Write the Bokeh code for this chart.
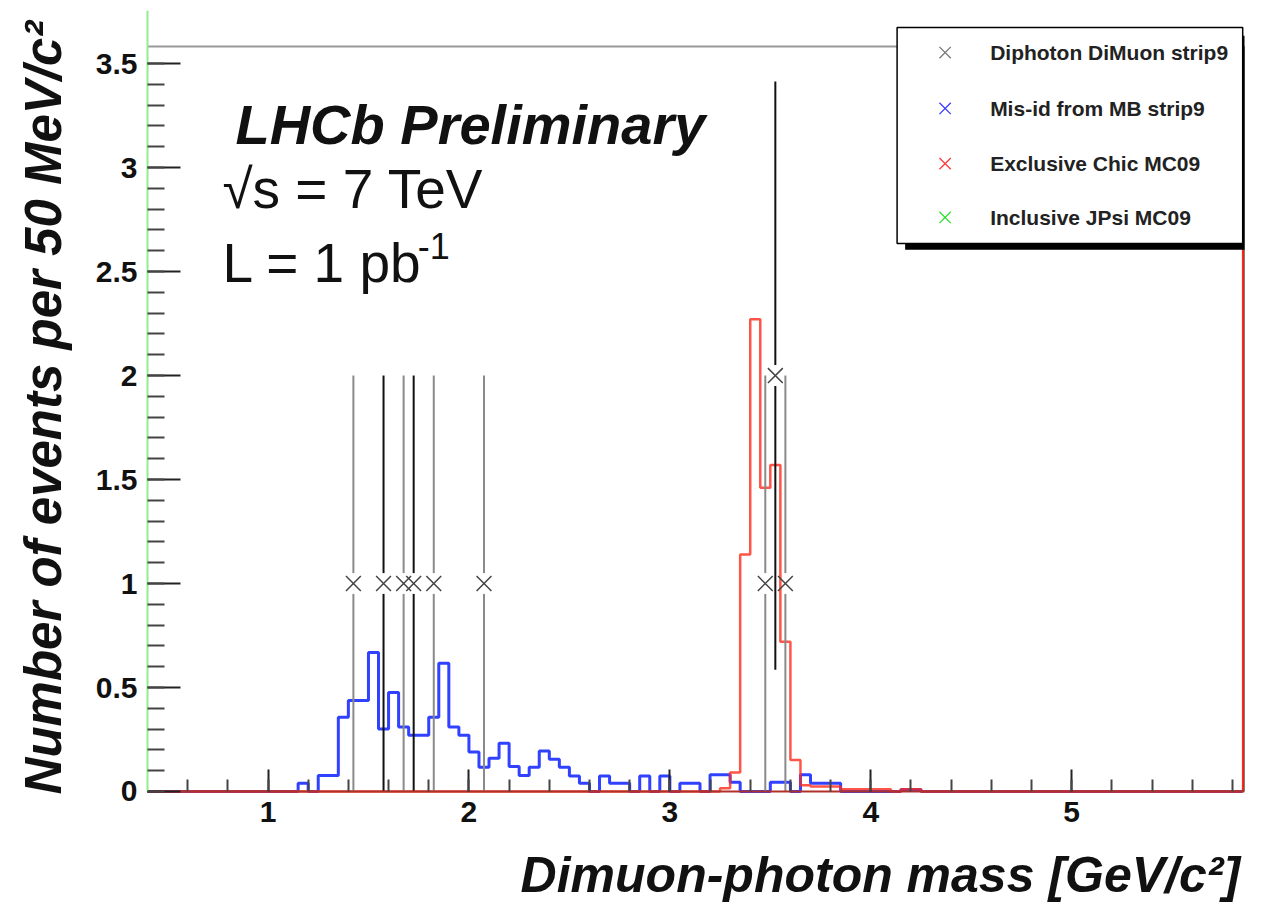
import numpy as np
from bokeh.plotting import figure
from bokeh.models import Label, FixedTicker, SingleIntervalTicker
from bokeh.core.properties import value
from bokeh.embed import file_html
from bokeh.resources import INLINE

# ---------------- data ----------------
bin_width = 0.05
x_lo, x_hi = 0.4, 5.85

# Mis-id from MB strip9 (blue), bins starting at 1.15 GeV
blue_first_bin = 1.15
blue_counts = [0.04, 0.0, 0.077, 0.077, 0.357, 0.4375, 0.4375, 0.668, 0.30, 0.476,
               0.31, 0.27, 0.27, 0.357, 0.617, 0.31, 0.27, 0.19, 0.117, 0.16,
               0.232, 0.12, 0.077, 0.117, 0.195, 0.155, 0.117, 0.075, 0.04, 0.0,
               0.075, 0.04, 0.04, 0.0, 0.075, 0.0, 0.075, 0.0, 0.04, 0.04,
               0.0, 0.08, 0.08, 0.045, 0.0, 0.0, 0.0, 0.045, 0.045, 0.0,
               0.08, 0.04, 0.04, 0.04, 0.0, 0.0, 0.0, 0.0, 0.0, 0.0,
               0.01, 0.01]

# Exclusive Chic MC09 (red), bins starting at 3.25 GeV
red_first_bin = 3.25
red_counts = [0.016, 0.091, 1.14, 2.27, 1.46, 1.57, 0.72, 0.152, 0.03, 0.024,
              0.024, 0.024, 0.011, 0.011, 0.011, 0.011, 0.011, 0.0, 0.011, 0.011]

# Diphoton DiMuon strip9 (data points)
data_mass = [1.425, 1.575, 1.675, 1.725, 1.825, 2.075, 3.475, 3.525, 3.575]
data_counts = [1, 1, 1, 1, 1, 1, 1, 2, 1]

legend_labels = ["Diphoton DiMuon strip9", "Mis-id from MB strip9",
                 "Exclusive Chic MC09", "Inclusive JPsi MC09"]

y_major = [0, 0.5, 1, 1.5, 2, 2.5, 3, 3.5]

# ---------------- styles ----------------
FONT = "Liberation Sans"
err_colors = ["#8a8a8a", "#111111", "#8a8a8a", "#111111", "#8a8a8a", "#8a8a8a",
              "#8a8a8a", "#111111", "#8a8a8a"]
legend_marker_colors = ["#777777", "#3b3bff", "#ff3b3b", "#2ee02e"]

X_MIN, X_MAX = 0.4, 5.86          # visible axis extent
X_LEFT = X_MIN - 147 / 201.0      # frame extends to the canvas edge
Y_TOP = 3.755
Y_BOTTOM = -0.5337


def step_xy(first, counts):
    nb = int(round((x_hi - x_lo) / bin_width))
    vals = np.zeros(nb)
    i0 = int(round((first - x_lo) / bin_width))
    vals[i0:i0 + len(counts)] = counts
    edges = x_lo + bin_width * np.arange(nb + 1)
    xs, ys = [x_lo], [0.0]
    for i in range(nb):
        xs += [edges[i], edges[i + 1]]
        ys += [vals[i], vals[i]]
    xs.append(x_hi)
    ys.append(0.0)
    return xs, ys


p = figure(width=1279, height=902, x_range=(X_LEFT, X_MAX), y_range=(Y_BOTTOM, Y_TOP),
           output_backend="svg", toolbar_location=None,
           min_border_left=0, min_border_right=35, min_border_top=10,
           min_border_bottom=0)
p.outline_line_color = None
p.xgrid.visible = False
p.ygrid.visible = False
p.background_fill_color = "white"
p.border_fill_color = "white"

# axes (fixed inside the frame so that all titles can sit in the frame)
p.xaxis.fixed_location = 0
p.yaxis.fixed_location = X_MIN
p.xaxis.bounds = (X_MIN, X_MAX)
p.yaxis.bounds = (0, Y_TOP)
p.xaxis.ticker = SingleIntervalTicker(interval=1, num_minor_ticks=5)
p.yaxis.ticker = FixedTicker(ticks=y_major,
                             minor_ticks=[round(v, 1) for v in np.arange(0, 3.51, 0.1)])
for ax in (p.xaxis, p.yaxis):
    ax.major_label_text_font = FONT
    ax.major_label_text_font_style = "bold"
    ax.major_label_text_font_size = "30px"
    ax.major_label_text_color = "#111111"
    ax.major_tick_out = 0
    ax.minor_tick_out = 0
    ax.major_tick_line_color = "#222222"
    ax.minor_tick_line_color = "#444444"
    ax.major_tick_line_width = 2
    ax.minor_tick_line_width = 2
p.xaxis.major_tick_in = 22
p.xaxis.minor_tick_in = 12
p.yaxis.major_tick_in = 33
p.yaxis.minor_tick_in = 17
p.xaxis.major_label_standoff = 11
p.yaxis.major_label_standoff = 10
p.xaxis.axis_line_color = "#b0302a"
p.xaxis.axis_line_width = 2
p.yaxis.axis_line_color = "#90ee90"
p.yaxis.axis_line_width = 2

# axis titles
p.add_layout(Label(x=5.838, y=-0.40, text="Dimuon-photon mass [GeV/c²]",
                   text_font=FONT, text_font_style="bold italic",
                   text_font_size="50px", text_align="right",
                   text_baseline="alphabetic", text_color="#111111"))
p.add_layout(Label(x=X_MIN - 104 / 201.0, y=1.846, angle=np.pi / 2,
                   text="Number of events per 50 MeV/c²",
                   text_font=FONT, text_font_style="bold italic",
                   text_font_size="51px", text_align="center",
                   text_baseline="middle", text_color="#111111"))

# frame lines (top gray, right black)
p.line([X_MIN, X_MAX], [3.582, 3.582], line_color="#999999", line_width=2)
p.line([5.857, 5.857], [0, 3.582], line_color="#000000", line_width=3)
p.line([5.852, 5.852], [0, 3.582], line_color="#ff2a1a", line_width=2)

# histograms
bx, by = step_xy(blue_first_bin, blue_counts)
p.line(bx, by, line_color="#1a2cff", line_width=3, line_alpha=0.9)
rx, ry = step_xy(red_first_bin, red_counts)
p.line(rx, ry, line_color="#ff2a1a", line_width=2.5, line_alpha=0.8)

# data points with error bars (gap around marker)
gap = 0.05
for xm, n, col in zip(data_mass, data_counts, err_colors):
    e = np.sqrt(n)
    p.line([xm, xm], [max(n - e, 0), n - gap], line_color=col, line_width=2)
    p.line([xm, xm], [n + gap, n + e], line_color=col, line_width=2)
p.scatter(data_mass, data_counts, marker="x", size=21, line_color="#444444",
          line_width=1.5)

# in-plot texts
p.add_layout(Label(x=0.838, y=3.205, text="LHCb Preliminary", text_font=FONT,
                   text_font_style="bold italic", text_font_size="56px",
                   text_baseline="alphabetic", text_color="#111111"))
p.add_layout(Label(x=0.773, y=2.895, text="√s = 7 TeV", text_font=FONT,
                   text_font_size="55px", text_baseline="alphabetic",
                   text_color="#111111"))
p.add_layout(Label(x=0.773, y=2.54, text="L = 1 pb", text_font=FONT,
                   text_font_size="55px", text_baseline="alphabetic",
                   text_color="#111111"))
p.add_layout(Label(x=1.745, y=2.625, text="-1", text_font=FONT,
                   text_font_size="36px", text_baseline="alphabetic",
                   text_color="#111111"))

# legend box with shadow
lx0, lx1, ly0, ly1 = 4.131, 5.851, 2.635, 3.673
p.quad(left=[lx0 + 0.04], right=[lx1 + 0.03], bottom=[ly0 - 0.03], top=[ly1 - 0.04],
       fill_color="black", line_color=None)
p.quad(left=[lx0], right=[lx1], bottom=[ly0], top=[ly1], fill_color="white",
       line_color="black", line_width=1.5)
leg_y = [3.553, 3.284, 3.019, 2.760]
p.scatter([4.37] * 4, leg_y, marker="x", size=16, line_color=legend_marker_colors,
          line_width=1.3)
p.text([4.594] * 4, leg_y, text=legend_labels, text_font=value(FONT),
       text_font_style="bold", text_font_size=value("21px"),
       text_baseline="middle", text_color="#222222")

open("out.html", "w").write(file_html(p, INLINE))
